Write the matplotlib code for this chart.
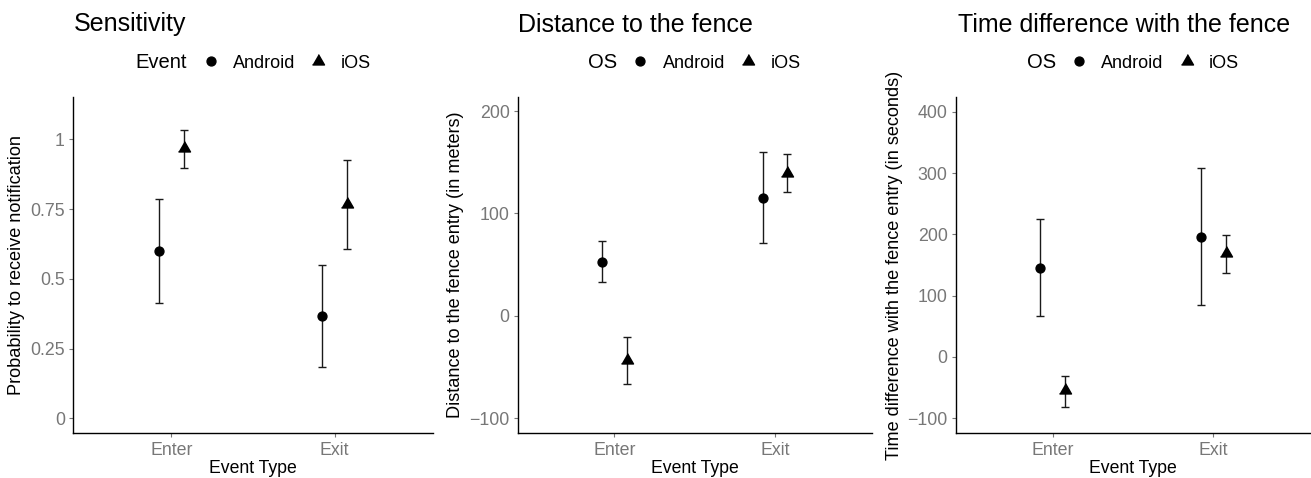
import numpy as np
import matplotlib
matplotlib.use("Agg")
from matplotlib import pyplot as plt
from matplotlib import transforms
from matplotlib.lines import Line2D

plt.rcParams['font.family'] = ['Liberation Sans', 'DejaVu Sans']

# data (point estimate, lower, upper)
events = ["Enter", "Exit"]

sens_android = [0.601, 0.367]
sens_android_lo = [0.414, 0.185]
sens_android_hi = [0.786, 0.549]
sens_ios = [0.968, 0.767]
sens_ios_lo = [0.898, 0.607]
sens_ios_hi = [1.034, 0.926]

dist_android = [53.0, 115.5]
dist_android_lo = [33.5, 71.6]
dist_android_hi = [73.0, 160.0]
dist_ios = [-43.0, 140.0]
dist_ios_lo = [-66.7, 121.0]
dist_ios_hi = [-21.0, 158.0]

time_android = [145.0, 195.8]
time_android_lo = [66.9, 84.8]
time_android_hi = [224.6, 307.8]
time_ios = [-54.0, 169.7]
time_ios_lo = [-80.9, 137.0]
time_ios_hi = [-30.4, 199.7]

sens_ticks = [0, 0.25, 0.5, 0.75, 1]
sens_ticklabels = ["0", "0.25", "0.5", "0.75", "1"]
dist_ticks = [-100, 0, 100, 200]
time_ticks = [-100, 0, 100, 200, 300, 400]

W, H = 1311, 478
TRI = [(-1.0, -0.577), (1.0, -0.577), (0.0, 1.155)]
TICK_COLOR = "#777777"


def px(x, y):
    return x / W, (H - y) / H


def draw_panel(fig, rect, title, title_x, leg_title, leg_title_x, leg_x,
               ylabel, ylabel_x, ylim, yticks, yticklabels, series):
    ax = fig.add_axes(rect)
    x = np.arange(1, len(events) + 1)
    handles = []
    for off, marker, ms, vals, lo, hi, lab in series:
        vals = np.array(vals)
        err = [vals - np.array(lo), np.array(hi) - vals]
        ax.errorbar(x + off, vals, yerr=err, fmt='none', ecolor='#1a1a1a',
                    elinewidth=1.0, capsize=3, capthick=1.0, zorder=2)
        ax.plot(x + off, vals, linestyle='none', marker=marker, ms=ms,
                color='black', zorder=3)
        handles.append(Line2D([], [], linestyle='none', marker=marker,
                              ms=ms, color='black', label=lab))
    ax.set_xlim(0.4, 2.6)
    ax.set_ylim(*ylim)
    ax.set_xticks(x)
    ax.set_xticklabels(events)
    ax.set_yticks(yticks)
    ax.set_yticklabels(yticklabels)
    for s in ['top', 'right']:
        ax.spines[s].set_visible(False)
    for s in ['left', 'bottom']:
        ax.spines[s].set_linewidth(1.0)
    ax.tick_params(length=2.6, width=0.8, color=TICK_COLOR,
                   labelcolor=TICK_COLOR, labelsize=12.8, pad=3.5)
    ax.set_xlabel("Event Type", fontsize=12.7, labelpad=1)
    ax.set_ylabel(ylabel, fontsize=13.1)
    tr = transforms.blended_transform_factory(fig.transFigure, ax.transAxes)
    ax.yaxis.set_label_coords(ylabel_x / W, 0.5, transform=tr)

    fig.text(*px(title_x, 31.5), title, fontsize=18, va='baseline',
             ha='left')
    fig.text(*px(leg_title_x, 63), leg_title, fontsize=14.5, va='center',
             ha='left')
    ax.legend(handles=handles, ncol=2, loc='center left', frameon=False,
              bbox_to_anchor=px(leg_x, 63), bbox_transform=fig.transFigure,
              borderpad=0, borderaxespad=0, handlelength=1.0,
              handletextpad=0.74, columnspacing=0.77, fontsize=13)
    return ax


fig = plt.figure(figsize=(W / 100, H / 100), dpi=100)

bottom, height = 44.7 / H, 336.6 / H

draw_panel(fig, [73.3 / W, bottom, 359.4 / W, height], "Sensitivity", 74,
           "Event", 135.7, 201.7,
           "Probability to receive notification", 25.5,
           (-0.054, 1.153), sens_ticks, sens_ticklabels,
           [(-0.075, 'o', 6.4, sens_android, sens_android_lo,
             sens_android_hi, "Android"),
            (0.075, TRI, 10, sens_ios, sens_ios_lo, sens_ios_hi, "iOS")])

draw_panel(fig, [518 / W, bottom, 353.7 / W, height],
           "Distance to the fence", 518.5,
           "OS", 588, 631.3,
           "Distance to the fence entry (in meters)", 464,
           (-114.6, 214), dist_ticks, ["\u2212100", "0", "100", "200"],
           [(-0.075, 'o', 6.4, dist_android, dist_android_lo,
             dist_android_hi, "Android"),
            (0.075, TRI, 10, dist_ios, dist_ios_lo, dist_ios_hi, "iOS")])

draw_panel(fig, [956 / W, bottom, 354 / W, height],
           "Time difference with the fence", 958,
           "OS", 1026.7, 1070,
           "Time difference with the fence entry (in seconds)", 903.3,
           (-124.5, 424.5), time_ticks,
           ["\u2212100", "0", "100", "200", "300", "400"],
           [(-0.075, 'o', 6.4, time_android, time_android_lo,
             time_android_hi, "Android"),
            (0.075, TRI, 10, time_ios, time_ios_lo, time_ios_hi, "iOS")])

fig.savefig("out.png", dpi=100)
